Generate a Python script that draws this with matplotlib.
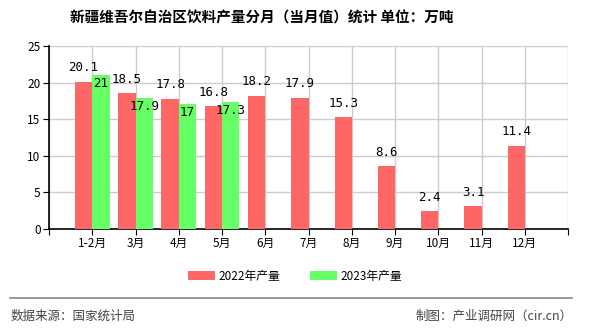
import matplotlib.pyplot as plt
import numpy as np

plt.rcParams['font.family'] = ['Noto Sans CJK SC', 'DejaVu Sans']

# Monthly output, 10k tonnes
months = ["1-2月", "3月", "4月", "5月", "6月", "7月", "8月", "9月", "10月", "11月", "12月"]
output_2022 = [20.1, 18.5, 17.8, 16.8, 18.2, 17.9, 15.3, 8.6, 2.4, 3.1, 11.4]
output_2023 = [21, 17.9, 17, 17.3]

red = "#ff6666"
green = "#66ff66"
width = 0.4

fig = plt.figure(figsize=(5.9, 3.3), dpi=100)
ax = fig.add_axes([0.083, 0.306, 0.880, 0.555])

x = np.arange(len(months))
x23 = np.arange(len(output_2023))

ax.bar(x - width / 2, output_2022, width, color=red, label="2022年产量", zorder=3)
ax.bar(x23 + width / 2, output_2023, width, color=green, label="2023年产量", zorder=3)

# Value labels
for xi, v in zip(x, output_2022):
    ax.annotate(f"{v:g}", (xi - width / 2, v), xytext=(0, 10), textcoords="offset points",
                ha="center", va="center", fontsize=9, family="DejaVu Sans Mono", zorder=4)
for xi, v in zip(x23, output_2023):
    ax.annotate(f"{v:g}", (xi + width / 2, v), xytext=(0, -6), textcoords="offset points",
                ha="center", va="center", fontsize=9, family="DejaVu Sans Mono", zorder=4)

ax.set_xlim(-1, len(months))
ax.set_ylim(0, 25)
ax.set_xticks(np.arange(-1, len(months) + 1))
ax.set_xticklabels([""] + months + [""], fontsize=8.5)
ax.set_yticks(np.arange(0, 26, 5))
ax.tick_params(axis="y", labelsize=8.5, length=4, direction="out", pad=2)
ax.tick_params(axis="x", length=4, direction="out", pad=2)
ax.grid(True, color="#cccccc", linewidth=1, zorder=0)
for side in ["top", "right"]:
    ax.spines[side].set_visible(False)
ax.spines["left"].set_linewidth(1.2)
ax.spines["bottom"].set_linewidth(1.2)

fig.text(0.443, 0.948, "新疆维吾尔自治区饮料产量分月（当月值）统计 单位：万吨",
         ha="center", va="center", fontsize=10.5, fontweight="bold")

fig.legend(loc="center", bbox_to_anchor=(0.5, 0.162), ncol=2, frameon=False,
           fontsize=8.5, handlelength=2.3, handleheight=0.8, columnspacing=2.5,
           handletextpad=0.3)

fig.add_artist(plt.Line2D([0.017, 0.97], [0.097, 0.097], color="#888888", linewidth=1.2))
fig.text(0.017, 0.042, "数据来源：国家统计局", ha="left", va="center", fontsize=9, color="#444444")
fig.text(0.97, 0.042, "制图：产业调研网（cir.cn）", ha="right", va="center", fontsize=9, color="#444444")

fig.savefig("out.png", dpi=100)
